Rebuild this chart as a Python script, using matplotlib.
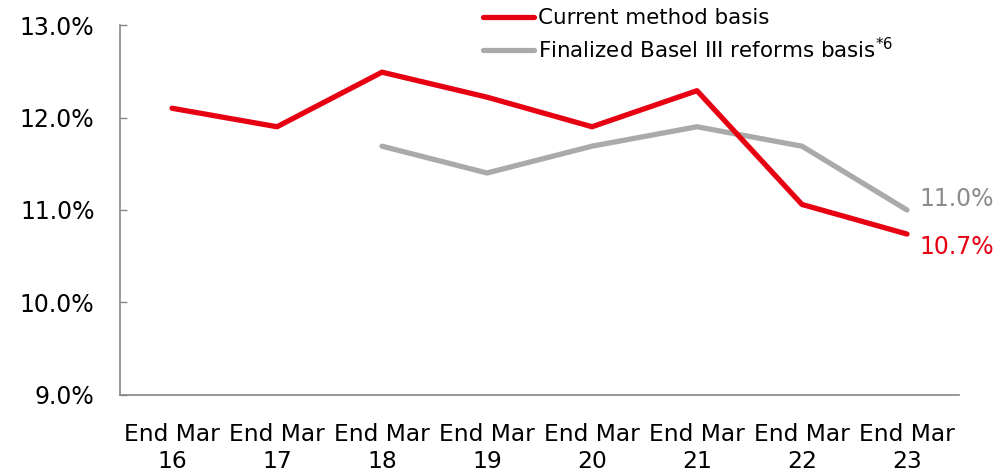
import matplotlib
matplotlib.use("Agg")
import matplotlib.pyplot as plt

categories = ["End Mar\n16", "End Mar\n17", "End Mar\n18", "End Mar\n19",
              "End Mar\n20", "End Mar\n21", "End Mar\n22", "End Mar\n23"]
current_basis = [12.10, 11.90, 12.49, 12.22, 11.90, 12.29, 11.06, 10.74]
finalized_basis = [None, None, 11.69, 11.40, 11.69, 11.90, 11.69, 11.00]
yticks = [9.0, 10.0, 11.0, 12.0, 13.0]

RED = "#E60012"
GRAY = "#AAAAAA"
SPINE = "#868686"

plt.rcParams["font.family"] = ["DejaVu Sans"]

fig = plt.figure(figsize=(10.07, 4.71), dpi=100)
ax = fig.add_axes([0.1187, 0.1614, 0.8341, 0.7855])

x = list(range(len(categories)))
fx = [i for i, v in zip(x, finalized_basis) if v is not None]
fv = [v for v in finalized_basis if v is not None]

ax.plot(x, current_basis, color=RED, lw=3.8, solid_capstyle="round",
        label="Current method basis", zorder=3)
ax.plot(fx, fv, color=GRAY, lw=3.8, solid_capstyle="round",
        label="Finalized Basel III reforms basis$^{*6}$", zorder=2)

ax.set_xlim(-0.5, len(categories) - 0.5)
ax.set_ylim(9.0, 13.0)
ax.set_yticks(yticks)
ax.set_yticklabels([f"{t:.1f}%" for t in yticks])
ax.set_xticks(x)
ax.set_xticklabels(categories, fontsize=16.8, linespacing=1.22)

ax.tick_params(axis="y", direction="in", length=5, width=1, color=SPINE,
               labelsize=17, pad=18)
ax.tick_params(axis="x", length=0, pad=20)

for side in ("top", "right"):
    ax.spines[side].set_visible(False)
for side in ("left", "bottom"):
    ax.spines[side].set_color(SPINE)
    ax.spines[side].set_linewidth(1.2)

# End-point value labels
ax.annotate(f"{fv[-1]:.1f}%", xy=(fx[-1], fv[-1]), xytext=(9, 8),
            textcoords="offset points", color="#8C8C8C", fontsize=17,
            ha="left", va="center")
ax.annotate(f"{current_basis[-1]:.1f}%", xy=(x[-1], current_basis[-1]),
            xytext=(9, -9), textcoords="offset points", color=RED,
            fontsize=17, ha="left", va="center")

ax.legend(loc="upper left", bbox_to_anchor=(483 / 1007, 1 - 8 / 471),
          bbox_transform=fig.transFigure, frameon=False, fontsize=15.4,
          handlelength=2.4, handletextpad=0.15, labelspacing=0.4,
          borderpad=0, borderaxespad=0)

fig.savefig("out.png", dpi=100)
